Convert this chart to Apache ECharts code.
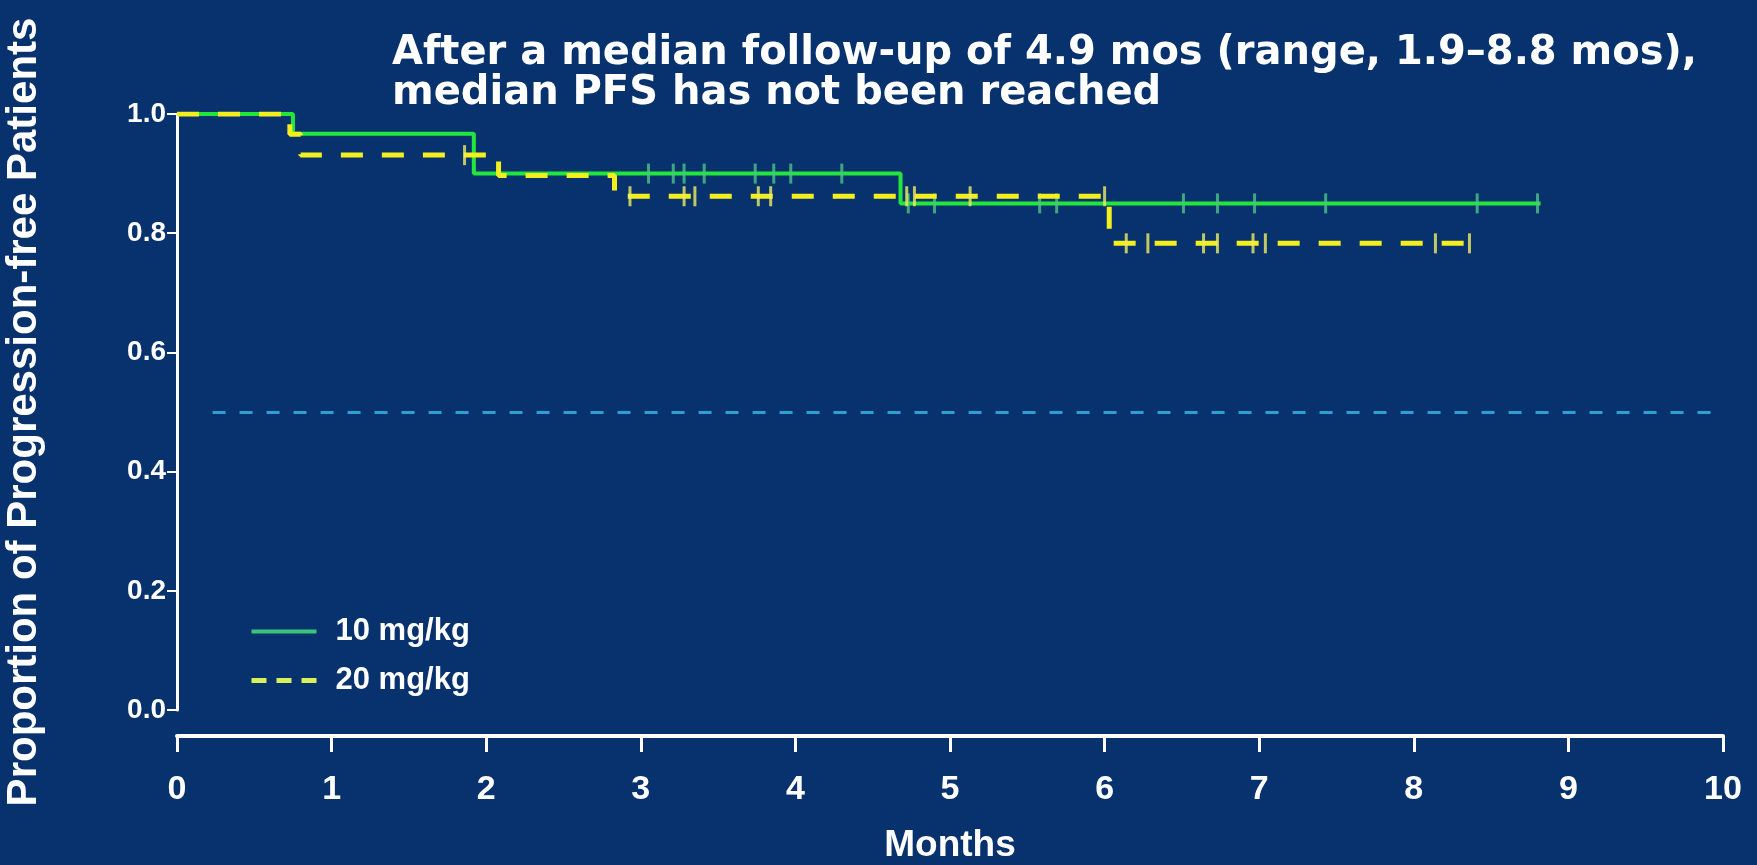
<!DOCTYPE html>
<html>
<head>
<meta charset="utf-8">
<script src="https://cdn.jsdelivr.net/npm/echarts@6/dist/echarts.min.js"></script>
<style>
  html, body { margin: 0; padding: 0; background: #08326e; }
  #chart { width: 1757px; height: 865px; }
</style>
</head>
<body>
<div id="chart"></div>
<script>
// ---- Data ----
const titleLines = ['After a median follow-up of 4.9 mos (range, 1.9\u20138.8 mos),', 'median PFS has not been reached'];
const seriesNames = ['10 mg/kg', '20 mg/kg'];
const xTicks = [0, 1, 2, 3, 4, 5, 6, 7, 8, 9, 10];
const yTicks = [0.0, 0.2, 0.4, 0.6, 0.8, 1.0];

// Kaplan-Meier step points (time in months, proportion progression-free)
const pfsTime10 = [0, 0.75, 1.92, 4.68, 8.82];
const pfsSurv10 = [1.0, 0.967, 0.900, 0.850, 0.850];
const censor10 = [3.05, 3.21, 3.28, 3.41, 3.74, 3.86, 3.97, 4.30, 4.73, 4.90, 5.58, 5.69, 6.51, 6.73, 6.97, 7.43, 8.41, 8.80];

const pfsTime20 = [0, 0.73, 0.80, 2.08, 2.83, 6.03, 8.38];
const pfsSurv20 = [1.0, 0.966, 0.931, 0.897, 0.862, 0.783, 0.783];
const censor20 = [1.86, 2.93, 3.28, 3.35, 3.76, 3.84, 4.72, 4.77, 5.13, 6.00, 6.14, 6.28, 6.64, 6.73, 6.96, 7.04, 8.14, 8.36];

// Median reference line
const medianLevel = 0.5;
const medianSpan = [0.23, 9.95];

// ---- Build ----
function stepPoints(times, surv) { return times.map((t, i) => [t, surv[i]]); }
function levelAt(times, surv, t) {
  let v = surv[0];
  for (let i = 0; i < times.length; i++) { if (times[i] <= t) v = surv[i]; }
  return v;
}
function censorPoints(cens, times, surv) { return cens.map(t => [t, levelAt(times, surv, t)]); }

const GREEN = '#22e63c';
const YELLOW = '#f3ef1f';
const WHITE = '#ffffff';
const F = 'Liberation Sans, Arial, sans-serif';

const chart = echarts.init(document.getElementById('chart'));
chart.setOption({
  backgroundColor: '#08326e',
  animation: false,
  title: {
    text: titleLines.join('\n'),
    left: 392, top: 34, padding: 0,
    textStyle: { color: WHITE, fontFamily: 'DejaVu Sans', fontWeight: 'bold', fontSize: 40, lineHeight: 40 }
  },
  legend: {
    orient: 'vertical', left: 249, top: 616, padding: 0,
    itemWidth: 65, itemHeight: 18, itemGap: 18,
    textStyle: { color: WHITE, fontFamily: F, fontWeight: 'bold', fontSize: 31, padding: [0, 0, 0, 14] },
    data: [
      { name: seriesNames[0], icon: 'path://M0,0L65,0L65,4L0,4Z', itemStyle: { color: '#3cc47a' } },
      { name: seriesNames[1], lineStyle: { type: [15, 10], width: 5, color: '#d8f05a' },
        itemStyle: { color: 'rgba(0,0,0,0)', borderWidth: 0, opacity: 0 } }
    ]
  },
  grid: { left: 177, right: 34, top: 114, bottom: 155, containLabel: false, outerBoundsMode: 'none' },
  xAxis: {
    type: 'value', min: 0, max: 10, interval: 1, offset: 26,
    name: 'Months', nameLocation: 'middle', nameGap: 91,
    nameTextStyle: { color: WHITE, fontFamily: F, fontWeight: 'bold', fontSize: 37 },
    axisLine: { onZero: false, lineStyle: { color: WHITE, width: 4 } },
    axisTick: { show: true, length: 16, lineStyle: { color: WHITE, width: 3 } },
    axisLabel: { color: WHITE, fontFamily: F, fontWeight: 'bold', fontSize: 34, margin: 37,
      customValues: xTicks, formatter: v => String(v) },
    splitLine: { show: false }
  },
  yAxis: {
    type: 'value', min: 0, max: 1, interval: 0.2,
    name: 'Proportion of Progression-free Patients', nameLocation: 'middle', nameGap: 132, nameRotate: 90,
    nameTextStyle: { color: WHITE, fontFamily: F, fontWeight: 'bold', fontSize: 42 },
    axisLine: { show: true, onZero: false, lineStyle: { color: WHITE, width: 3 } },
    axisTick: { show: true, length: 10, lineStyle: { color: WHITE, width: 2 } },
    axisLabel: { color: WHITE, fontFamily: F, fontWeight: 'bold', fontSize: 28, margin: 11,
      customValues: yTicks, formatter: v => v.toFixed(1) },
    splitLine: { show: false }
  },
  series: [
    {
      name: seriesNames[0], type: 'line', step: 'end', symbol: 'none',
      data: stepPoints(pfsTime10, pfsSurv10),
      lineStyle: { color: GREEN, width: 4 }, itemStyle: { color: GREEN }, z: 3,
      markLine: {
        silent: true, symbol: 'none', label: { show: false },
        lineStyle: { color: '#2d9fd2', width: 3, type: [13, 14] },
        data: [[{ coord: [medianSpan[0], medianLevel] }, { coord: [medianSpan[1], medianLevel] }]]
      }
    },
    {
      name: seriesNames[0], type: 'scatter', symbol: 'rect', symbolSize: [3, 20],
      data: censorPoints(censor10, pfsTime10, pfsSurv10),
      itemStyle: { color: '#4cc486' }, z: 4
    },
    {
      name: seriesNames[1], type: 'line', step: 'end', symbol: 'none',
      data: stepPoints(pfsTime20, pfsSurv20),
      lineStyle: { color: YELLOW, width: 5, type: [22, 19] }, itemStyle: { color: YELLOW }, z: 5
    },
    {
      name: seriesNames[1], type: 'scatter', symbol: 'rect', symbolSize: [3, 20],
      data: censorPoints(censor20, pfsTime20, pfsSurv20),
      itemStyle: { color: '#f0ee60' }, z: 6
    }
  ]
});
</script>
</body>
</html>
